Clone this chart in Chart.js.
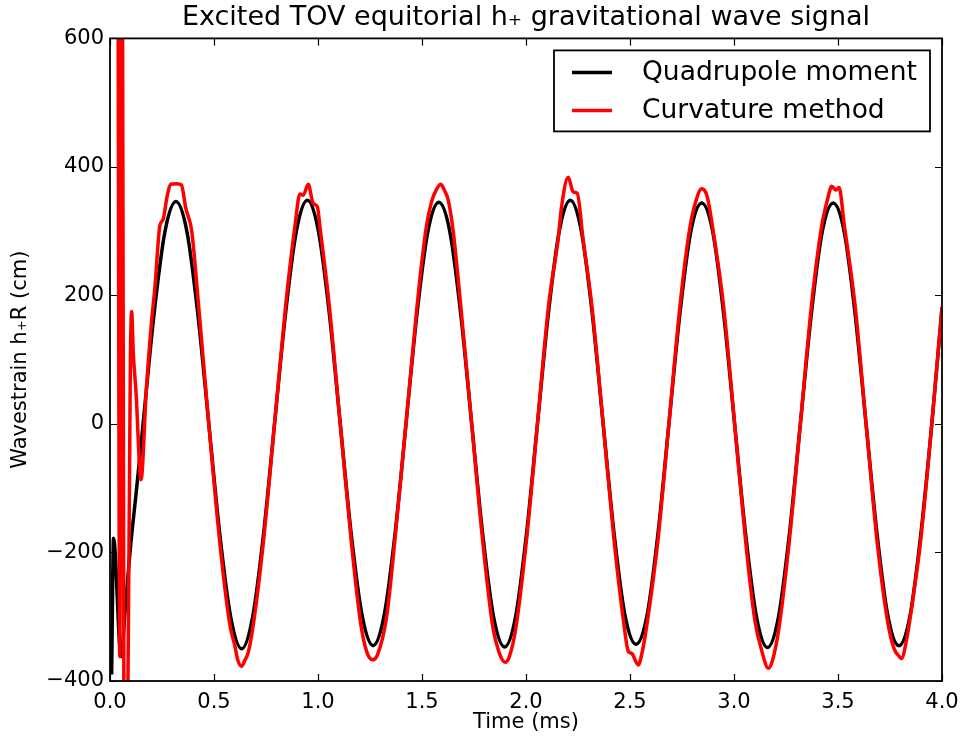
<!DOCTYPE html>
<html lang="en">
<head>
    <meta charset="UTF-8">
    <title>Excited TOV equitorial h+ gravitational wave signal</title>
    <script src="https://cdn.jsdelivr.net/npm/chart.js"></script>
    <style>
        body { margin: 0; background: #ffffff; }
        #chart { display: block; }
    </style>
</head>
<body>
    <canvas id="chart" width="964" height="738"></canvas>
    <script>
        // Quadrupole moment (black)
        const quadTime = [
            0.008, 0.017, 0.053, 0.075, 0.096, 0.128,
            0.159, 0.212, 0.264, 0.317, 0.370, 0.422, 0.475, 0.528, 0.580, 0.633, 0.686, 0.738,
            0.791, 0.844, 0.896, 0.949, 1.002, 1.054, 1.107, 1.160, 1.212, 1.265, 1.318, 1.370,
            1.423, 1.476, 1.528, 1.581, 1.634, 1.686, 1.739, 1.792, 1.844, 1.897, 1.950, 2.002,
            2.055, 2.108, 2.160, 2.213, 2.266, 2.318, 2.371, 2.424, 2.476, 2.529, 2.582, 2.634,
            2.687, 2.740, 2.792, 2.845, 2.898, 2.950, 3.003, 3.056, 3.108, 3.161, 3.214, 3.266,
            3.319, 3.372, 3.424, 3.477, 3.530, 3.582, 3.635, 3.688, 3.740, 3.793, 3.846, 3.898,
            3.951, 4.000
        ];
        const quadStrain = [
            -390, -178, -362, -280, -200, -100,
            0, 172, 299, 346, 299, 172, 0, -172, -300, -350, -300, -172,
            0, 172, 300, 348, 300, 173, 0, -172, -298, -345, -298, -172,
            0, 172, 299, 345, 299, 172, 0, -172, -300, -347, -300, -172,
            0, 173, 300, 348, 300, 173, 0, -172, -298, -343, -298, -172,
            0, 172, 299, 344, 299, 172, 0, -172, -300, -348, -300, -172,
            0, 172, 299, 344, 299, 172, 0, -172, -299, -345, -299, -172,
            0, 180
        ];

        // Curvature method (red)
        const curvTime = [
            0.037, 0.047, 0.056, 0.072, 0.098, 0.104, 0.112, 0.125, 0.149, 0.175,
            0.200, 0.216, 0.240, 0.255, 0.275, 0.292, 0.320, 0.343, 0.365, 0.393, 0.425,
            0.475, 0.528, 0.575, 0.600, 0.615, 0.633, 0.648, 0.665, 0.690, 0.738,
            0.791, 0.844, 0.890, 0.913, 0.929, 0.953, 0.977, 0.997, 1.010, 1.054,
            1.107, 1.160, 1.205, 1.235, 1.262, 1.285, 1.330, 1.370,
            1.423, 1.476, 1.520, 1.546, 1.570, 1.590, 1.610, 1.625, 1.650, 1.686,
            1.739, 1.792, 1.840, 1.870, 1.900, 1.920, 1.950, 2.002,
            2.055, 2.108, 2.155, 2.171, 2.203, 2.227, 2.246, 2.275, 2.318,
            2.371, 2.424, 2.470, 2.492, 2.508, 2.540, 2.556, 2.580, 2.634,
            2.687, 2.740, 2.785, 2.815, 2.845, 2.870, 2.900, 2.950,
            3.003, 3.056, 3.100, 3.135, 3.165, 3.185, 3.215, 3.266,
            3.319, 3.372, 3.420, 3.450, 3.470, 3.490, 3.505, 3.530, 3.582,
            3.635, 3.688, 3.740, 3.770, 3.790, 3.805, 3.830, 3.870, 3.898, 3.951, 4.000
        ];
        const curvStrain = [
            1000, -362, 1000, -900, 100, 175, 110, 50, -87, 55,
            160, 213, 309, 318, 355, 373, 374, 372, 335, 300, 188,
            0, -185, -310, -345, -368, -377, -368, -355, -310, -182,
            0, 183, 310, 358, 356, 373, 343, 338, 305, 185,
            0, -183, -310, -355, -367, -360, -300, -180,
            0, 183, 305, 346, 365, 373, 362, 350, 300, 185,
            0, -183, -315, -355, -371, -362, -320, -182,
            0, 183, 289, 338, 384, 361, 359, 286, 180,
            0, -183, -310, -354, -357, -375, -359, -315, -182,
            0, 183, 300, 345, 366, 355, 300, 183,
            0, -183, -305, -355, -380, -368, -320, -182,
            0, 183, 305, 350, 370, 364, 368, 310, 185,
            0, -183, -310, -350, -360, -365, -335, -250, -180, 0, 182
        ];

        const xTicks = [0.0, 0.5, 1.0, 1.5, 2.0, 2.5, 3.0, 3.5, 4.0];
        const yTicks = [-400, -200, 0, 200, 400, 600];

        const FONT = 'DejaVu Sans';

        function toPoints(xs, ys) {
            return xs.map((x, i) => ({ x: x, y: ys[i] }));
        }

        // matplotlib style: inward ticks on all four sides plus the frame
        const framePlugin = {
            id: 'frame',
            afterDatasetsDraw(chart) {
                const { ctx, chartArea: a, scales: { x, y } } = chart;
                const len = 7;
                ctx.save();
                ctx.strokeStyle = '#000';
                ctx.lineWidth = 1.2;
                ctx.beginPath();
                xTicks.forEach(v => {
                    const px = Math.round(x.getPixelForValue(v)) + 0.5;
                    ctx.moveTo(px, a.bottom); ctx.lineTo(px, a.bottom - len);
                    ctx.moveTo(px, a.top); ctx.lineTo(px, a.top + len);
                });
                yTicks.forEach(v => {
                    const py = Math.round(y.getPixelForValue(v)) + 0.5;
                    ctx.moveTo(a.left, py); ctx.lineTo(a.left + len, py);
                    ctx.moveTo(a.right, py); ctx.lineTo(a.right - len, py);
                });
                ctx.stroke();
                ctx.lineWidth = 1.8;
                ctx.strokeRect(a.left, a.top, a.right - a.left, a.bottom - a.top);
                ctx.restore();
            }
        };

        // legend box inside the plot, upper right
        const legendBoxPlugin = {
            id: 'legendBox',
            afterDraw(chart) {
                const { ctx, chartArea: a } = chart;
                const boxW = 376, boxH = 81;
                const bx = a.right - 12 - boxW;
                const by = a.top + 12;
                ctx.save();
                ctx.fillStyle = '#fff';
                ctx.fillRect(bx, by, boxW, boxH);
                ctx.strokeStyle = '#000';
                ctx.lineWidth = 1.8;
                ctx.strokeRect(bx, by, boxW, boxH);
                ctx.font = '26.5px "' + FONT + '"';
                ctx.textBaseline = 'middle';
                chart.data.datasets.forEach((ds, i) => {
                    const ly = by + 22 + i * 38;
                    ctx.strokeStyle = ds.borderColor;
                    ctx.lineWidth = 3.5;
                    ctx.beginPath();
                    ctx.moveTo(bx + 18, ly);
                    ctx.lineTo(bx + 58, ly);
                    ctx.stroke();
                    ctx.fillStyle = '#000';
                    ctx.fillText(ds.label, bx + 88, ly + 1);
                });
                ctx.restore();
            }
        };

        const ctx = document.getElementById('chart').getContext('2d');
        new Chart(ctx, {
            type: 'line',
            data: {
                datasets: [
                    {
                        label: 'Quadrupole moment',
                        data: toPoints(quadTime, quadStrain),
                        borderColor: '#000000',
                        borderWidth: 3.5,
                        pointRadius: 0,
                        cubicInterpolationMode: 'monotone',
                        fill: false,
                        clip: 0,
                        order: 1
                    },
                    {
                        label: 'Curvature method',
                        data: toPoints(curvTime, curvStrain),
                        borderColor: '#ff0000',
                        borderWidth: 3.5,
                        pointRadius: 0,
                        cubicInterpolationMode: 'monotone',
                        fill: false,
                        clip: 0,
                        order: 0
                    }
                ]
            },
            options: {
                responsive: false,
                animation: false,
                devicePixelRatio: 1,
                layout: { padding: { left: 0, right: 22, top: 0, bottom: 0 } },
                plugins: {
                    legend: { display: false },
                    tooltip: { enabled: false },
                    title: {
                        display: true,
                        fullSize: false,
                        text: 'Excited TOV equitorial h₊ gravitational wave signal',
                        color: '#000',
                        font: { family: FONT, size: 27, weight: 'normal', lineHeight: 1.2 },
                        padding: { top: 2, bottom: 4 }
                    }
                },
                scales: {
                    x: {
                        type: 'linear',
                        min: 0,
                        max: 4,
                        afterBuildTicks: s => { s.ticks = xTicks.map(v => ({ value: v })); },
                        afterFit: s => { s.height = 57; s.paddingLeft = 0; s.paddingRight = 0; },
                        grid: { display: false, drawTicks: false },
                        border: { display: false },
                        ticks: {
                            color: '#000',
                            font: { family: FONT, size: 21 },
                            padding: 9,
                            maxRotation: 0,
                            autoSkip: false,
                            callback: v => v.toFixed(1)
                        },
                        title: {
                            display: true,
                            text: 'Time (ms)',
                            color: '#000',
                            font: { family: FONT, size: 21, lineHeight: 1.2 },
                            padding: { top: 0, bottom: 3 }
                        }
                    },
                    y: {
                        type: 'linear',
                        min: -400,
                        max: 600,
                        afterBuildTicks: s => { s.ticks = yTicks.map(v => ({ value: v })); },
                        afterFit: s => { s.width = 110; },
                        grid: { display: false, drawTicks: false },
                        border: { display: false },
                        ticks: {
                            color: '#000',
                            font: { family: FONT, size: 21 },
                            padding: 6,
                            autoSkip: false,
                            callback: v => (v < 0 ? '\u2212' + Math.abs(v) : String(v))
                        },
                        title: {
                            display: true,
                            text: 'Wavestrain h₊R (cm)',
                            color: '#000',
                            font: { family: FONT, size: 21, lineHeight: 1.2 },
                            padding: { top: 8, bottom: 0 }
                        }
                    }
                }
            },
            plugins: [framePlugin, legendBoxPlugin]
        });
    </script>
</body>
</html>
